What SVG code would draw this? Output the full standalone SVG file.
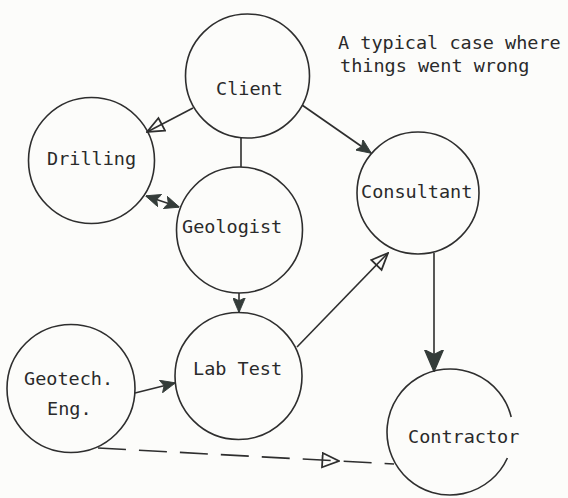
<svg xmlns="http://www.w3.org/2000/svg" width="568" height="498" viewBox="0 0 568 498">
<style>
  .node { fill: none; stroke: #2e2e2e; stroke-width: 1.6; }
  .lbl { font-family: "DejaVu Sans Mono", "Liberation Mono", monospace; font-size: 18.5px; fill: #2a2a2a; }
  .edge { fill: none; stroke: #2e2e2e; stroke-width: 1.6; }
  .dash { stroke-dasharray: 28 13; }
</style>
<defs>
  <marker id="filled" viewBox="0 0 14 12" markerUnits="userSpaceOnUse" markerWidth="15" markerHeight="13" refX="13.5" refY="6" orient="auto-start-reverse">
    <path d="M0,0 L14,6 L0,12 L3,6 z" fill="#343c39" stroke="#343c39" stroke-width="0.8"/>
  </marker>
  <marker id="bigfilled" viewBox="0 0 14 12" markerUnits="userSpaceOnUse" markerWidth="22" markerHeight="20" refX="13.5" refY="6" orient="auto">
    <path d="M0,0 L14,6 L0,12 L3,6 z" fill="#343c39" stroke="#343c39" stroke-width="0.8"/>
  </marker>
  <marker id="open" viewBox="-1 -1 16 14" markerUnits="userSpaceOnUse" markerWidth="19" markerHeight="17" refX="14" refY="6" orient="auto">
    <path d="M0,0 L14,6 L0,12 z" fill="none" stroke="#2e2e2e" stroke-width="1.5"/>
  </marker>
</defs>
<rect width="568" height="498" fill="#fcfcfa"/>

<g id="connectors">
  <line class="edge" x1="193" y1="108" x2="147" y2="132" marker-end="url(#open)"/>
  <line class="edge" x1="241" y1="138" x2="241" y2="167"/>
  <line class="edge" x1="302" y1="105" x2="371" y2="153" marker-end="url(#filled)"/>
  <line class="edge" x1="146" y1="196" x2="179" y2="207" marker-start="url(#filled)" marker-end="url(#filled)"/>
  <line class="edge" x1="239" y1="293" x2="239" y2="312" marker-end="url(#filled)"/>
  <line class="edge" x1="297" y1="347" x2="388" y2="253" marker-end="url(#open)"/>
  <line class="edge" x1="434" y1="253" x2="434" y2="371" marker-end="url(#bigfilled)"/>
  <line class="edge" x1="135" y1="393" x2="175" y2="383" marker-end="url(#filled)"/>
  <polyline class="edge dash" points="98,448 339,461 394,464" marker-mid="url(#open)"/>
</g>

<g id="client">
  <circle class="node" cx="247.5" cy="76" r="62"/>
  <text class="lbl" x="216" y="95">Client</text>
</g>
<g id="drilling">
  <circle class="node" cx="91.5" cy="160.5" r="63"/>
  <text class="lbl" x="47" y="165">Drilling</text>
</g>
<g id="geologist">
  <circle class="node" cx="239.5" cy="230" r="63"/>
  <text class="lbl" x="182" y="233">Geologist</text>
</g>
<g id="consultant">
  <circle class="node" cx="418" cy="193" r="61"/>
  <text class="lbl" x="361" y="198">Consultant</text>
</g>
<g id="labtest">
  <circle class="node" cx="238.5" cy="376" r="63.5"/>
  <text class="lbl" x="193" y="375">Lab Test</text>
</g>
<g id="geotech">
  <circle class="node" cx="71" cy="388.5" r="64"/>
  <text class="lbl" x="24" y="385">Geotech.</text>
  <text class="lbl" x="47" y="415">Eng.</text>
</g>
<g id="contractor">
  <path class="node" d="M507.4,458 A63,63 0 1 1 511.2,417"/>
  <text class="lbl" x="408" y="443">Contractor</text>
</g>
<g id="caption">
  <text class="lbl" x="338" y="49">A typical case where</text>
  <text class="lbl" x="340" y="72">things went wrong</text>
</g>
</svg>
